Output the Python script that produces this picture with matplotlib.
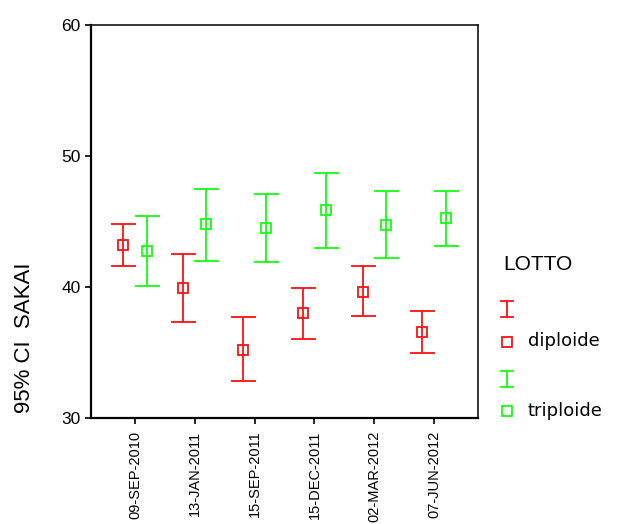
import matplotlib
matplotlib.use("Agg")
import matplotlib.pyplot as plt
from matplotlib.lines import Line2D
import numpy as np

dates = ['09-SEP-2010', '13-JAN-2011', '15-SEP-2011', '15-DEC-2011', '02-MAR-2012', '07-JUN-2012']
dip_mean = [43.2, 39.95, 35.2, 38.0, 39.65, 36.6]
dip_low = [41.6, 37.3, 32.8, 36.05, 37.8, 34.95]
dip_high = [44.8, 42.55, 37.7, 39.95, 41.6, 38.2]
tri_mean = [42.75, 44.8, 44.5, 45.9, 44.7, 45.25]
tri_low = [40.05, 42.0, 41.9, 43.0, 42.2, 43.1]
tri_high = [45.4, 47.5, 47.1, 48.7, 47.3, 47.3]
series_labels = ['diploide', 'triploide']
legend_title = 'LOTTO'
y_label = '95% CI  SAKAI'

RED = '#ff1010'
GREEN = '#10ff10'
FONT = 'Liberation Sans'

W, H = 617, 524
fig = plt.figure(figsize=(W / 100, H / 100), dpi=100)
ax = fig.add_axes([91 / W, 1 - 418 / H, (478 - 91) / W, (418 - 25) / H])

x = np.arange(len(dates))
off = 0.195
for xs, m, lo, hi, c in [(x - off, dip_mean, dip_low, dip_high, RED),
                         (x + off, tri_mean, tri_low, tri_high, GREEN)]:
    m = np.array(m); lo = np.array(lo); hi = np.array(hi)
    ax.errorbar(xs, m, yerr=[m - lo, hi - m], fmt='s', color=c, ecolor=c,
                mfc='none', mec=c, ms=7.5, mew=1.3, elinewidth=1.3,
                capsize=9, capthick=1.3)

ax.set_xlim(-0.736, len(dates) - 1 + 0.736)
ax.set_ylim(30, 60)
ax.set_yticks([30, 40, 50, 60])
ax.set_xticks(x)
ax.set_xticklabels(dates, rotation=90, fontsize=10.5, family=FONT)
for lab in ax.get_yticklabels():
    lab.set_fontsize(12.5)
    lab.set_family(FONT)
ax.tick_params(axis='both', direction='out', length=4, width=1.2, color='black')
ax.tick_params(axis='y', pad=3.5)
ax.tick_params(axis='x', pad=5)
for s in ['left', 'bottom']:
    ax.spines[s].set_linewidth(1.6)
for s in ['top', 'right']:
    ax.spines[s].set_linewidth(1.1)

fig.text(24 / W, 1 - 338 / H, y_label, rotation=90, ha='center', va='center',
         fontsize=16, family=FONT)

def P(px, py):
    return (px / W, 1 - py / H)

# legend (manual, in figure pixel coordinates)
fig.text(*P(503, 264), legend_title, ha='left', va='center', fontsize=15, family=FONT)
for (ytop, ybot, ysq, c, lab) in [(300.5, 317, 341.5, RED, series_labels[0]),
                                  (371, 387, 411, GREEN, series_labels[1])]:
    xc = 506.5
    fig.add_artist(Line2D([P(xc, 0)[0]] * 2, [P(0, ytop)[1], P(0, ybot)[1]],
                          transform=fig.transFigure, color=c, lw=1.3))
    for yy in (ytop, ybot):
        fig.add_artist(Line2D([P(xc - 6, 0)[0], P(xc + 6, 0)[0]], [P(0, yy)[1]] * 2,
                              transform=fig.transFigure, color=c, lw=1.3))
    fig.add_artist(Line2D([P(xc, 0)[0]], [P(0, ysq)[1]], transform=fig.transFigure,
                          marker='s', ms=7, mfc='none', mec=c, mew=1.3, ls='none'))
    fig.text(*P(528, ysq), lab, ha='left', va='center', fontsize=13, family='DejaVu Sans')

fig.savefig('out.png', dpi=100)
